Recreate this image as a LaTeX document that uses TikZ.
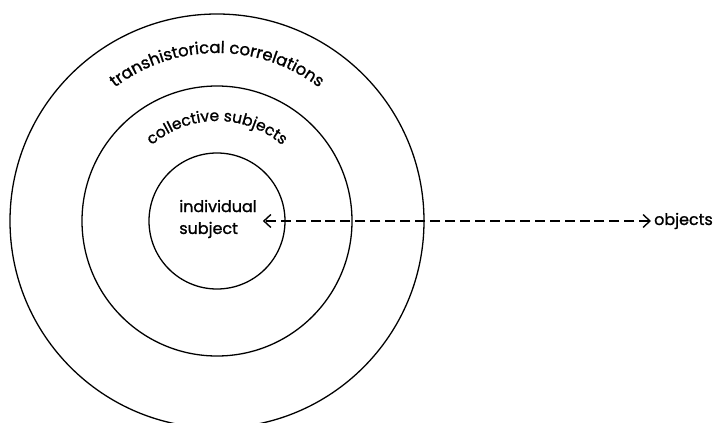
\documentclass[tikz,border=0pt]{standalone}
\usepackage{fontspec}
\setmainfont{Poppins}[FakeBold=1.2]
\usetikzlibrary{arrows.meta,positioning,decorations.text}
\tikzset{
  ring/.style={draw,circle,line width=1.3pt,inner sep=0pt},
  lbl/.style={font=\fontsize{16}{22}\selectfont,inner sep=2pt},
  arclbl/.style 2 args={decorate,decoration={text along path,text align=center,
                 text={|\fontsize{#2}{18}\selectfont|#1}}},
  arr/.style={{Straight Barb[length=7pt,width=13pt]}-{Straight Barb[length=7pt,width=13pt]},
              line width=1.4pt,dash pattern=on 10pt off 5pt},
}
\begin{document}
\begin{tikzpicture}[x=1bp,y=1bp]
  \useasboundingbox (0,0) rectangle (715,422);
  \coordinate (C) at (217,201);
  \node[ring,minimum size=414bp](outer)  at (C) {};
  \node[ring,minimum size=270bp](middle) at (C) {};
  \node[ring,minimum size=136bp](inner)  at (C) {};

  \path[arclbl={transhistorical correlations}{16.5}] (C) ++(180:168) arc[start angle=180,end angle=0,radius=168];
  \path[arclbl={collective subjects}{15.5}] (C) ++(180:100) arc[start angle=180,end angle=0,radius=100];

  \node[lbl,align=left](indiv) at (218,203) {individual\\subject};
  \node[lbl,anchor=west,inner sep=3pt](obj) at (651,201) {objects};

  \draw[arr](obj.west) -- ([xshift=4pt]obj.west -| indiv.east);
\end{tikzpicture}
\end{document}
